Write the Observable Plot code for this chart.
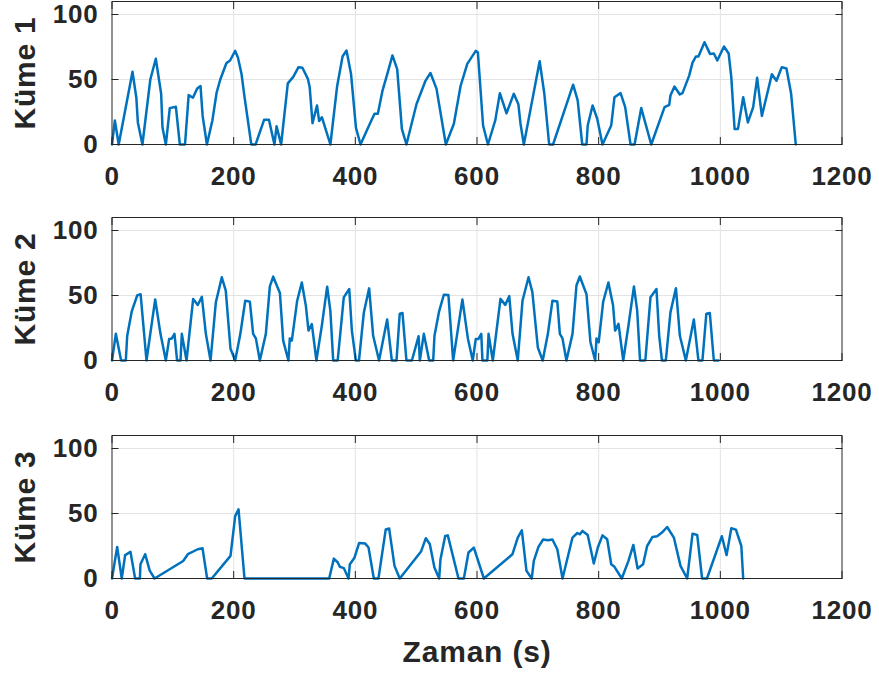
<!DOCTYPE html>
<html><head><meta charset="utf-8">
<script src="https://cdn.jsdelivr.net/npm/d3@7"></script>
<script src="https://cdn.jsdelivr.net/npm/@observablehq/plot@0.6"></script>
<style>
html,body{margin:0;padding:0;background:#fff;}
#chart{position:relative;width:879px;height:676px;overflow:hidden;background:#fff;}
#chart svg{position:absolute;left:0;}
</style></head><body><div id="chart"></div>
<script>
// ---- data ----
const xTicks = [0, 200, 400, 600, 800, 1000, 1200];
const yTicks = [0, 50, 100];
const panelLabels = ["Küme 1", "Küme 2", "Küme 3"];
const xLabel = "Zaman (s)";

const k1T = [0,4.7,11,33.7,40,42.5,50,63,72,80.8,83,88.5,95,105,111.5,120,126,133,140,145.5,149,156,165,172,178,188,194,202.5,207,213,218,229,236,250,258,267,270.5,278,289,298,306.6,313,322,325,329.6,337,340.5,345,359,370,379,385.5,393,401,408.5,422,431.5,437,444.7,453.4,461,468.8,476.5,484,500.5,515.3,523.5,533.4,548.8,562,573,584,598,601.4,610,618,630,637.6,648.5,660.5,668,671.5,677,703,710.7,718.6,725,758,765.5,773,780,782,790,797.5,806.3,820.6,826,836,843.6,852.4,859,870,886.4,908.3,916,918,924.6,933.4,937.8,948.8,954.3,960,964,974,983,989.4,995,1006,1013.7,1018,1023.4,1029,1037.6,1045.3,1054,1060.5,1068.3,1084.7,1092.3,1101,1108.7,1116.4,1124];
const k1V = [0,18.5,0,56,36,17,0,50,66,39,13,0,28,29,0,0,38,36,43,45,22,0,18.5,40,50,62.5,64.6,72,67,54,36,0,0,19,19,0,14,0,47,52,59.5,59,50.5,44,16.4,30,18,21,0,44.6,67.7,72.3,54,13,0,14,23.6,23.6,41.5,55.6,68.5,58,12,0,31,49,55,43,0,16,45,62,72,71,14.6,0,18.5,39.5,24,39,31,16,0,64,39,0,0,46,34,0,0,14.6,30,20,0,14.6,36.4,39.5,28.7,0,0,28,0,28.7,30.5,37.7,44.6,38.5,39.5,53,63,67.7,67.7,78.7,69.7,70,64.6,75.4,70,51.8,12,12,36.4,17,28.7,51.3,22,54,49,59.5,58.5,39,0];

const k2T = [0,6.3,15,22.7,25,32.6,41.4,47,56.7,71,79.7,88.5,94,98.4,102.7,107,112.6,114.8,122.5,133.4,141,147.7,154.3,162,170.7,180.5,187,194.8,202.5,211,219,226.6,232,236.5,243,252.9,259.5,265,276,281.4,290,292.3,295.6,304.4,312,318.7,323,328.5,336,345,353.7,359,363.6,371,381,390,394.3,400.8,406,414,422.7,429.3,439,452.3,460,467.7,473,477.5,484,493,504,506,512.6,521.4,528,530.1,537.8,545.5,553,560.8,576,585,593,598,602.5,607,609,617,619,626,638.6,646.5,653,658.4,667,674.8,684.7,691,700,708,716.5,724,732,736.2,740.5,747,757,763.5,769,780,786.5,794.3,796.4,800,807.5,816,823.7,827,832.6,840.4,849,858,863.3,868,876.7,885.2,895,899.5,904,910.4,918,927,933.5,943.3,956.5,964,970.6,977,982.7,989.3,997];
const k2V = [0,20.5,0,0,19,38,50,51,0,47,20.5,0,16.6,17,20.5,0,0,20.5,0,47.3,42.7,49,20.5,0,44.7,64,53.7,9,0,20.5,46,45.3,20.5,17,0,20.5,57,64.5,52,15.3,0,17,15.3,46,60,42,23,28,0,27,56.8,38,0,0,48.6,55,23,0,0,37,55.5,19,0,31.5,0,0,36,36.6,0,0,18.7,0,20.5,0,0,19,38,50.6,50.4,0,47,17,0,16.6,16.6,20.5,0,0,20.5,0,47.4,42.8,49.5,20.5,0,46,64,52.6,10,0,20.5,46,45.4,20.5,17,0,20.5,57.7,64.6,51,14,0,17,14,45.4,60,42.3,23,28.2,0,27,57,38.5,0,0,48.7,55,19,0,0,37,55.6,19,0,31.5,0,0,36,36.6,0,0];

const k3T = [0,8.5,16,21.6,30.4,38,45.8,46.8,54.5,62,70,117,124.7,141,148.8,156.4,164,194.8,202.5,208,217.8,357,364.7,371.2,374.5,381,388.8,391,398.6,406.3,416,421.7,430.4,438,450,455.6,464.4,473,508,515.9,522.5,530,537.8,540,547.7,552,569.6,578.4,586,594.8,611.3,658.3,667,673.7,681.3,690,693.4,701,708.7,716.5,724,732,740.6,757,765,769.2,773.4,782,792,798.6,806.3,814,820.6,826,838,849,857,864,873,879.7,888.5,896.2,904,912.6,923.6,934.5,945.5,954.3,962,970,978,1002.5,1010.3,1018,1025.6,1034.5,1037.6];
const k3V = [0,24.3,0,18,20.5,0,0,11,18.7,6,0,13.5,18.7,22.5,23.3,0,0,17.4,48,53.2,0,0,15.3,12.3,9,8,0,11,16,27.4,27,23.8,0,0,37.8,38.4,9.7,0,20.7,31,26.3,8.4,0,14.8,32.7,33.2,0,0,20,23.8,0,18.7,31.5,37,5.9,0,13.6,24.3,30,29.4,30,22.5,0,31.5,35,34,36.6,33.5,11.5,23.8,33.2,30.2,11,9,0,13.6,25.8,7.7,11,25,32,32.5,35.3,39.6,31.5,9.7,0,34.5,33.5,0,0,32.5,18,38.6,37.6,25,0];

// ---- style ----
const lineColor = "#0072BD";
const axisColor = "#262626";
const gridColor = "#e3e3e3";
const fontFamily = "'Liberation Sans', Arial, Helvetica, sans-serif";
const tickFont = 26;
const labelFont = 30;

const series = [[k1T, k1V], [k2T, k2V], [k3T, k3V]];
const tops = [0, 216, 434];
const heights = [200, 200, 242];

const chart = document.getElementById("chart");

series.forEach(([T, V], i) => {
  const data = T.map((t, j) => ({t, v: V[j]}));
  const H = heights[i];
  const marks = [
    Plot.gridX(xTicks.slice(1, -1), {stroke: gridColor, strokeOpacity: 1, strokeWidth: 1}),
    Plot.gridY(yTicks.slice(1), {stroke: gridColor, strokeOpacity: 1, strokeWidth: 1}),
    Plot.line(data, {x: "t", y: "v", stroke: lineColor, strokeWidth: 2.5, strokeLinejoin: "round"}),
    Plot.frame({stroke: axisColor, strokeWidth: 1}),
    Plot.axisX(xTicks, {anchor: "bottom", tickSize: -7, fill: "none", stroke: axisColor, label: null}),
    Plot.axisX(xTicks, {anchor: "top", tickSize: -7, fill: "none", stroke: axisColor, label: null}),
    Plot.axisY(yTicks, {anchor: "left", tickSize: -7, fill: "none", stroke: axisColor, label: null}),
    Plot.axisY(yTicks, {anchor: "right", tickSize: -7, fill: "none", stroke: axisColor, label: null}),
    Plot.axisX(xTicks, {anchor: "bottom", tickSize: 0, tickPadding: 22, fill: axisColor, label: null,
      fontSize: tickFont, fontWeight: "bold", tickFormat: d => String(d)}),
    Plot.axisY(yTicks, {anchor: "left", tickSize: 0, tickPadding: 13.5, fill: axisColor, label: null,
      fontSize: tickFont, fontWeight: "bold", tickFormat: d => String(d)}),
    Plot.text([panelLabels[i]], {frameAnchor: "left", text: d => d, rotate: -90, dx: -87,
      lineAnchor: "middle", textAnchor: "middle", fontSize: labelFont, fontWeight: "bold", fill: axisColor})
  ];
  if (i === 2) {
    marks.push(Plot.text([xLabel], {frameAnchor: "bottom", text: d => d, dy: 74, lineAnchor: "middle",
      textAnchor: "middle", fontSize: labelFont, fontWeight: "bold", fill: axisColor}));
  }
  const svg = Plot.plot({
    width: 879,
    height: H,
    marginLeft: 111.5,
    marginRight: 37.5,
    marginTop: 1,
    marginBottom: H - 144,
    x: {domain: [0, 1200]},
    y: {domain: [0, 110]},
    style: {fontFamily, fontSize: tickFont + "px", fontWeight: "bold", color: axisColor,
      background: "transparent", letterSpacing: "0.8px", overflow: "visible"},
    marks
  });
  svg.style.top = tops[i] + "px";
  chart.appendChild(svg);
});
</script>
</body></html>
